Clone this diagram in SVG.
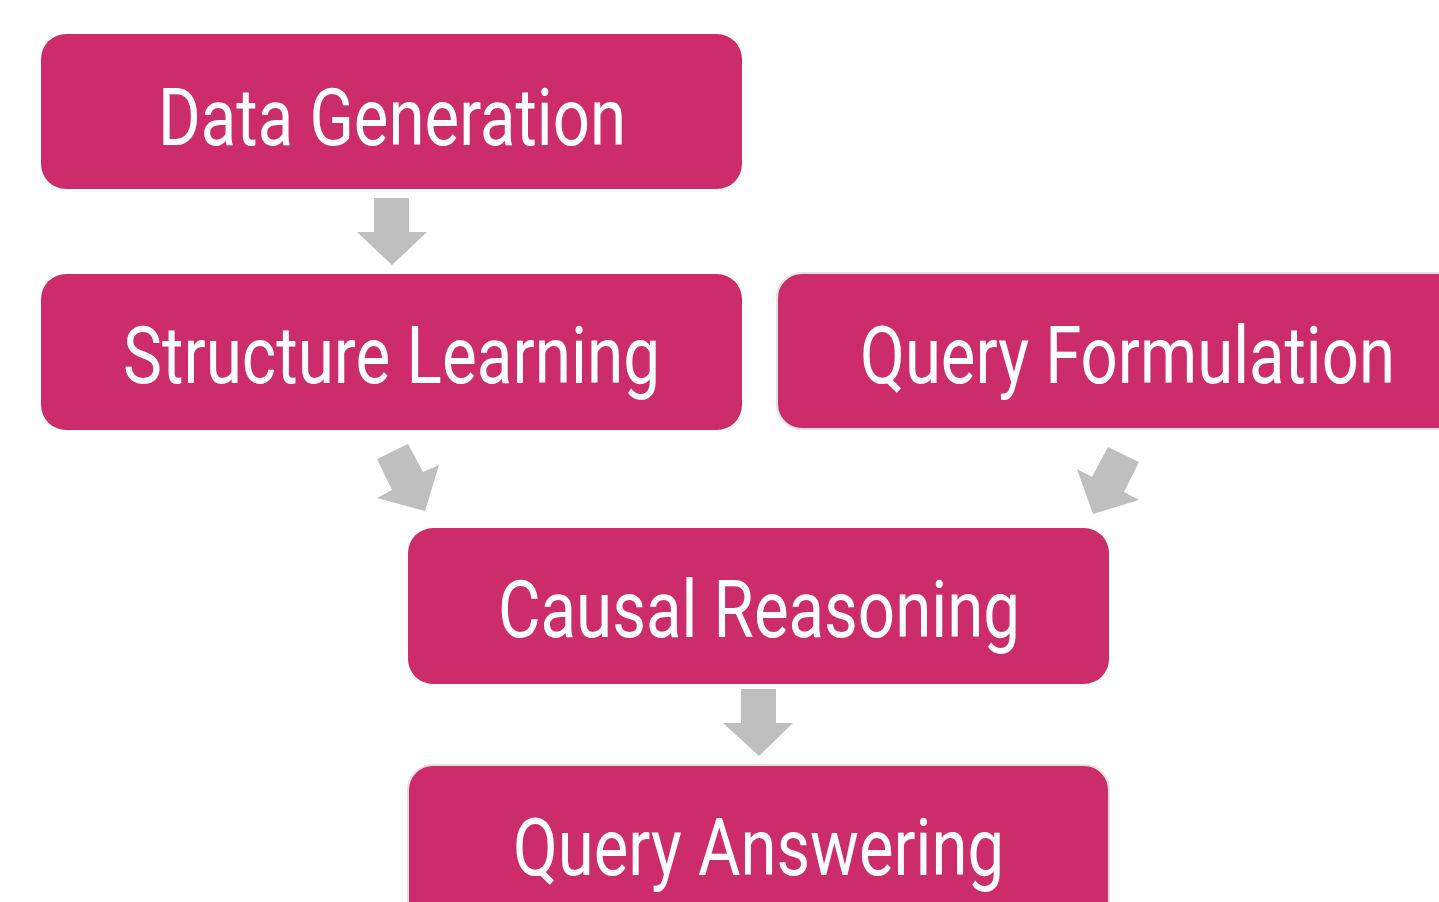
<svg xmlns="http://www.w3.org/2000/svg" width="1439" height="902" viewBox="0 0 1439 902">
  <style>
    .box { fill: #CC2C6A; }
    .edge { stroke: #E2E2E2; stroke-width: 2; }
    .label { fill: #FFFFFF; font-family: "Roboto", "Liberation Sans", sans-serif; font-size: 79px; }
    .arrow { fill: #BFBFBF; }
  </style>
  <rect width="1439" height="902" fill="#FFFFFF"/>

  <g id="connectors">
    <polygon class="arrow" points="374,198 409,198 409,232 427,232 392,265 357,232 374,232"/>
    <polygon class="arrow" points="377,459 408,444 423,472 439,465 425,511 377,498 392,490"/>
    <polygon class="arrow" points="1108,447 1139,462 1124,492 1139,500 1093,514 1077,469 1092,477"/>
    <polygon class="arrow" points="741,689 776,689 776,723 793,723 759,756 723,723 741,723"/>
  </g>

  <g id="data-generation">
    <rect class="box" x="41" y="34" width="701" height="155" rx="25"/>
    <text class="label" x="158" y="145" textLength="468" lengthAdjust="spacingAndGlyphs">Data Generation</text>
  </g>

  <g id="structure-learning">
    <rect class="box" x="41" y="274" width="701" height="156" rx="25"/>
    <text class="label" x="123" y="383" textLength="537" lengthAdjust="spacingAndGlyphs">Structure Learning</text>
  </g>

  <g id="query-formulation">
    <!-- runs past the right edge of the page, so only the left corners are rounded -->
    <path class="box edge" d="M1440,273 H802 A25,25 0 0 0 777,298 V404 A25,25 0 0 0 802,429 H1440"/>
    <text class="label" x="860" y="383" textLength="535" lengthAdjust="spacingAndGlyphs">Query Formulation</text>
  </g>

  <g id="causal-reasoning">
    <rect class="box" x="408" y="528" width="701" height="156" rx="25"/>
    <text class="label" x="498" y="637" textLength="522" lengthAdjust="spacingAndGlyphs">Causal Reasoning</text>
  </g>

  <g id="query-answering">
    <!-- runs past the bottom edge of the page, so only the top corners are rounded -->
    <path class="box edge" d="M408,903 V790 A25,25 0 0 1 433,765 H1084 A25,25 0 0 1 1109,790 V903"/>
    <text class="label" x="513" y="875" textLength="491" lengthAdjust="spacingAndGlyphs">Query Answering</text>
  </g>
</svg>
